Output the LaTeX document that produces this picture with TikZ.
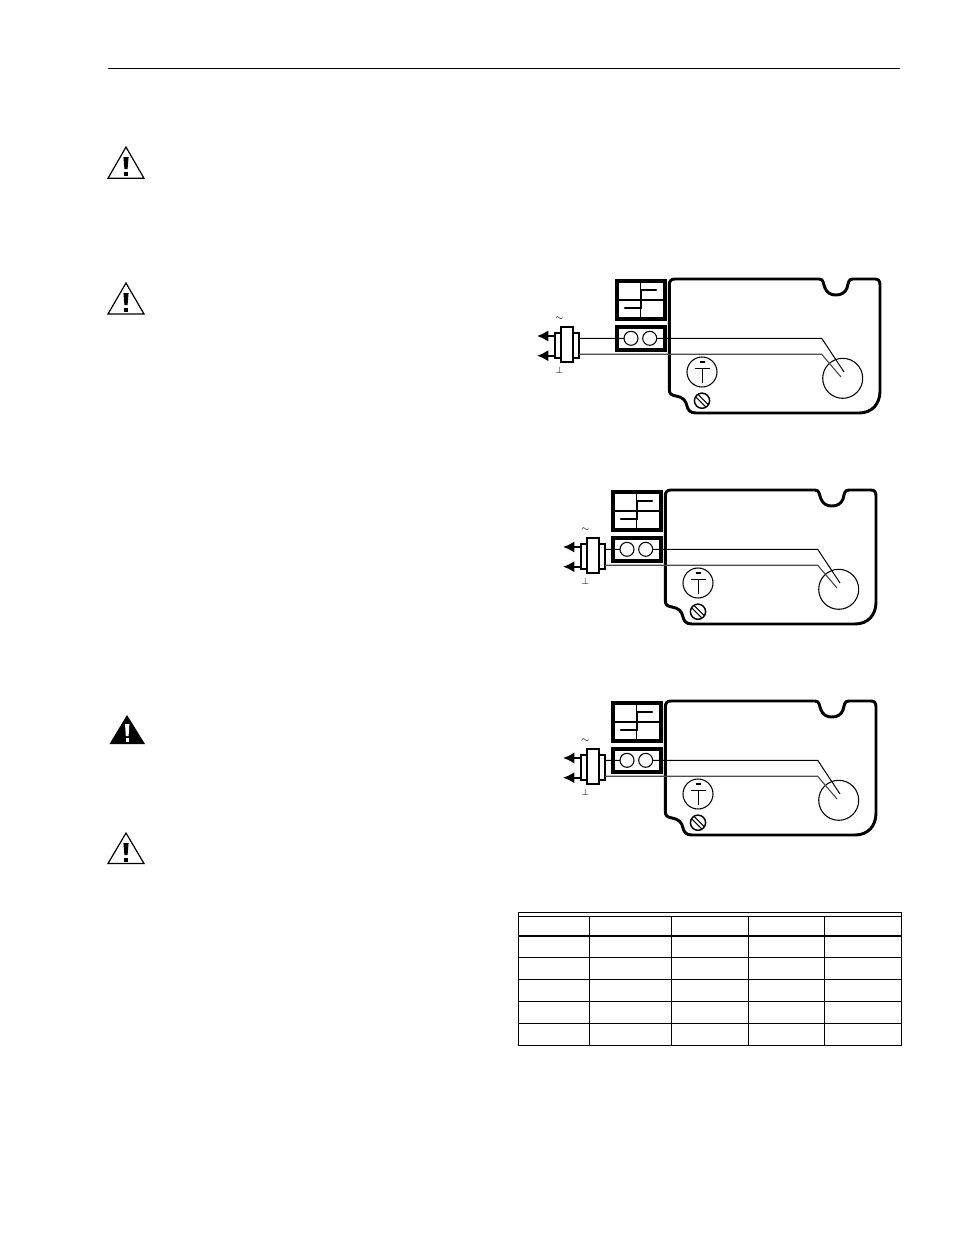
\documentclass[tikz,border=0pt]{standalone}
\usetikzlibrary{arrows.meta}
\tikzset{
  x=0.75pt,y=-0.75pt,
  heavy/.style={line width=2.2pt,line join=round,color=black},
  boxheavy/.style={line width=2.3pt,line join=miter,color=black},
  medium/.style={line width=1.1pt,line join=round},
  fine/.style={line width=0.8pt},
  wire/.style={line width=0.75pt},
  wirelow/.style={line width=0.85pt,color=black!70},
  sign/.style={inner sep=0pt,font=\fontsize{7}{7}\selectfont},
  rule/.style={line width=0.75pt},
  rulebold/.style={line width=1.6pt},
}
\newcommand{\warnsign}[3]{% apex y, base y, filled?
  \ifnum#3=1
    \fill[black,line join=miter] (127,#1) -- (145,#2) -- (109.5,#2) -- cycle;
    \fill[white] (125,#1+9) -- (129.4,#1+9) -- (128.6,#1+21) -- (125.8,#1+21) -- cycle;
    \fill[white] (125.6,#1+23) rectangle (128.8,#1+26.5);
  \else
    \draw[line width=0.9pt,line join=miter] (126,#1) -- (144,#2) -- (108,#2) -- cycle;
    \fill[black] (123.4,#1+10) -- (128.6,#1+10) -- (127.6,#1+22) -- (124.4,#1+22) -- cycle;
    \fill[black] (124.2,#1+24.5) rectangle (127.8,#1+29);
  \fi
}
\newcommand{\sensor}[3]{% housing dx, dy, connector dx
  \begin{scope}[shift={(#1,#2)}]
    % switch box
    \draw[boxheavy] (617,281) rectangle (665,319);
    \draw[fine] (640.7,281) -- (640.7,319) (617,300) -- (665,300);
    \draw[line width=1.9pt,line join=miter,line cap=round] (625,308) -- (641,308) -- (641,290) -- (656,290);
    % housing
    \draw[heavy,line cap=round]
      (669.3,285) .. controls (669.3,281) and (671,279) .. (675,279)
      -- (819,279) .. controls (824,279) and (823,284) .. (825,288)
      .. controls (827,293) and (831,295) .. (835.7,295)
      .. controls (841,295) and (845,293) .. (847,288)
      .. controls (848.5,283) and (848,279) .. (853,279)
      -- (875,279) .. controls (878.5,279) and (880,281) .. (880,285)
      -- (880,391) .. controls (880,404) and (872,413) .. (859,413)
      -- (696,413) .. controls (690,413) and (688,410) .. (687,406)
      .. controls (686,400) and (682,397) .. (676,396)
      .. controls (671,395) and (669.3,394) .. (669.3,389)
      -- cycle;
    \draw[fine] (702,372) circle (15);
    \draw[line width=1.1pt] (699.5,362) -- (704.5,362);
    \draw[line width=0.7pt] (694.5,368.5) -- (709.5,368.5) (702,368.5) -- (702,382.5);
    \draw[medium] (702,400.7) circle (7.6);
    \draw[fine] (698.2,394.5) -- (708.2,404.5) (695.8,396.9) -- (705.8,406.9);
    \draw[fine] (842.7,378.3) circle (20);
    \coordinate (ua) at (821.7,338.3);
    \coordinate (ub) at (844,372);
    \coordinate (la) at (821.7,354.3);
    \coordinate (lb) at (841,377);
  \end{scope}
  \begin{scope}[shift={(#3,#2)}]
    \draw[line width=1.8pt] (555,333) rectangle (579,358);
    \draw[line width=2.1pt,fill=white] (561,327) rectangle (573,362);
    \coordinate (ca) at (579,338.3);
    \coordinate (cb) at (579,354.3);
    \coordinate (au) at (555,336);
    \coordinate (al) at (555,355.7);
    \coordinate (tu) at (537,336);
    \coordinate (tb) at (537,355.7);
    \node[sign] (tilde#2) at (559.3,319) {$\sim$};
    \node[sign] (perp#2) at (559.3,370) {$\perp$};
  \end{scope}
  \draw[-{Latex[length=8.5pt,width=8.5pt]},line width=1.6pt] (au) -- (tu);
  \draw[-{Latex[length=8.5pt,width=8.5pt]},line width=1.6pt] (al) -- (tb);
  \draw[wire] (ca) -- (ua) -- (ub);
  \draw[wirelow] (cb) -- (la) -- (lb);
  \begin{scope}[shift={(#1,#2)}]
    \fill[white] (624,331) rectangle (657,346);
    \draw[wire] (617,338.3) -- (624,338.3) (656.7,338.3) -- (665,338.3);
    \draw[boxheavy] (617,327) rectangle (665,350);
    \draw[fine] (631,338.3) circle (7);
    \draw[fine] (649.7,338.3) circle (7);
  \end{scope}
}
\begin{document}
\begin{tikzpicture}
\useasboundingbox (0,0) rectangle (954,1235);
\fill[white] (0,0) rectangle (954,1235);
% top rule
\draw[rule] (108,68.5) -- (900,68.5);
% warning signs
\warnsign{147}{178.3}{0}
\warnsign{283}{314}{0}
\warnsign{715}{744}{1}
\warnsign{833}{863.5}{0}
% sensors
\sensor{0}{0}{0}
\sensor{-4}{211}{26}
\sensor{-4}{422}{26}
% table
\draw[rule] (518.5,912.3) rectangle (901.5,1045);
\draw[rule] (518.5,916) -- (901.5,916);
\draw[rulebold] (518.5,936) -- (901.5,936);
\foreach \ry in {957.3,979,1001.3,1023.3}
  \draw[rule] (518.5,\ry) -- (901.5,\ry);
\foreach \rx in {589.3,671.3,748.3,824.3}
  \draw[rule] (\rx,916) -- (\rx,1045);
\end{tikzpicture}
\end{document}
